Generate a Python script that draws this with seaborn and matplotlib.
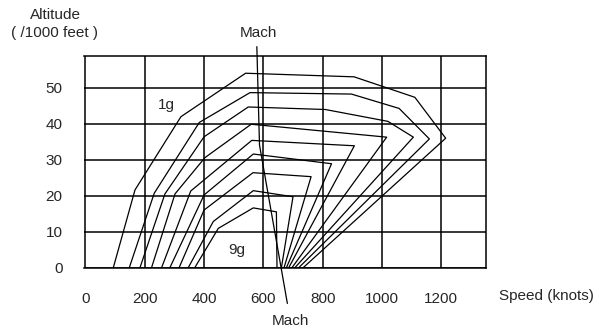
import pandas as pd
import seaborn as sns
import matplotlib.pyplot as plt

# flight envelope, one polyline per load factor (speed in knots, altitude in 1000 ft)
g_labels = ["1g", "2g", "3g", "4g", "5g", "6g", "7g", "8g", "9g"]

speed_1g = [94, 167, 322, 540, 906, 1111, 1215, 735]
alt_1g = [0, 21.6, 42.0, 54.1, 53.1, 47.4, 36.0, 0]
speed_2g = [148, 232, 384, 555, 897, 1058, 1160, 720]
alt_2g = [0, 20.7, 40.4, 48.7, 48.3, 44.3, 35.8, 0]
speed_3g = [184, 268, 400, 549, 809, 1020, 1106, 707]
alt_3g = [0, 20.5, 36.4, 44.7, 44.0, 40.7, 36.3, 0]
speed_4g = [223, 302, 403, 559, 1016, 697]
alt_4g = [0, 20.5, 30.6, 39.9, 36.3, 0]
speed_5g = [257, 355, 561, 907, 686]
alt_5g = [0, 21.3, 35.4, 33.9, 0]
speed_6g = [285, 400, 566, 830, 678]
alt_6g = [0, 20.2, 31.6, 28.9, 0]
speed_7g = [316, 400, 565, 761, 670]
alt_7g = [0, 16.0, 26.4, 25.3, 0]
speed_8g = [347, 431, 566, 700, 661]
alt_8g = [0, 12.8, 21.4, 19.7, 0]
speed_9g = [369, 448, 566, 644, 646]
alt_9g = [0, 10.9, 16.6, 15.5, 0]

mach_speed = [578, 587, 681]
mach_alt = [61.5, 34.1, -10.0]

x_ticks = [0, 200, 400, 600, 800, 1000, 1200]
y_ticks = [0, 10, 20, 30, 40, 50]

speeds = [speed_1g, speed_2g, speed_3g, speed_4g, speed_5g,
          speed_6g, speed_7g, speed_8g, speed_9g]
alts = [alt_1g, alt_2g, alt_3g, alt_4g, alt_5g,
        alt_6g, alt_7g, alt_8g, alt_9g]

records = []
for g, xs, ys in zip(g_labels, speeds, alts):
    for i, (x, y) in enumerate(zip(xs, ys)):
        records.append({"g": g, "step": i, "Speed": x, "Altitude": y})
df = pd.DataFrame(records)

sns.set_style("white")
plt.rcParams['font.family'] = ['Liberation Sans', 'DejaVu Sans']

fig = plt.figure(figsize=(5.99, 3.29), dpi=100)
ax = fig.add_axes([84 / 599, 1 - 267.5 / 329, 401.7 / 599, 211.5 / 329])

sns.lineplot(data=df, x="Speed", y="Altitude", units="g", estimator=None,
             sort=False, color="black", linewidth=0.9, ax=ax, legend=False)

ax.plot(mach_speed, mach_alt, color="black", linewidth=0.9, clip_on=False)

ax.set_xlim(-5, 1350)
ax.set_ylim(0, 58.9)
ax.set_xticks(x_ticks)
ax.set_yticks(y_ticks)
ax.set_xlabel("")
ax.set_ylabel("")
ax.grid(True, color="black", linewidth=1.1)
ax.tick_params(axis="x", direction="out", length=9.4, width=1.1, pad=8,
               labelsize=11, color="black")
ax.tick_params(axis="y", direction="out", length=11.5, width=1.1, pad=4,
               labelsize=11, color="black")
for side in ["top", "right", "bottom"]:
    ax.spines[side].set_color("black")
    ax.spines[side].set_linewidth(1.1)
ax.spines["left"].set_visible(False)

ax.text(274, 45.3, "1g", fontsize=11, ha="center", va="center")
ax.text(510, 4.9, "9g", fontsize=11, ha="center", va="center")

fig.text(55 / 599, 1 - 15 / 329, "Altitude", fontsize=11, ha="center", va="center")
fig.text(55 / 599, 1 - 33 / 329, "( /1000 feet )", fontsize=11, ha="center", va="center")
fig.text(258 / 599, 1 - 33 / 329, "Mach", fontsize=11, ha="center", va="center")
fig.text(290 / 599, 1 - 321 / 329, "Mach", fontsize=11, ha="center", va="center")
fig.text(546 / 599, 1 - 296 / 329, "Speed (knots)", fontsize=11, ha="center", va="center")

fig.savefig("out.png", dpi=100)
